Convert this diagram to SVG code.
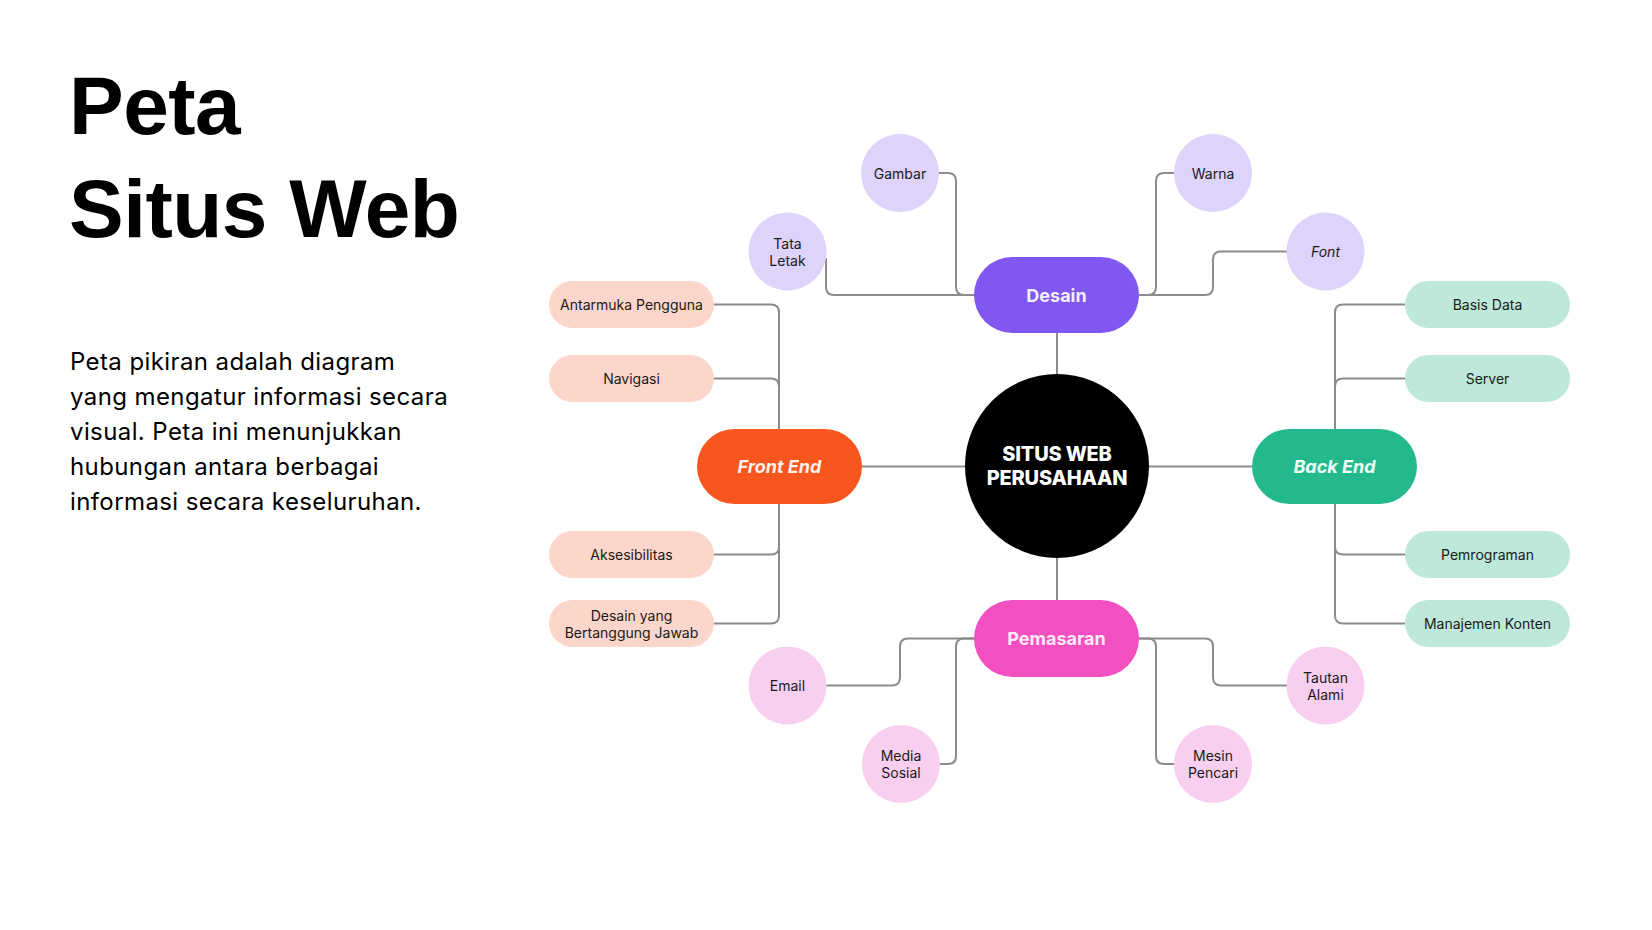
<svg xmlns="http://www.w3.org/2000/svg" width="1652" height="930" viewBox="0 0 1652 930">
<style>
.title{font-family:"Liberation Sans",Arial,sans-serif;font-weight:700;font-size:82px;fill:#000;letter-spacing:-0.5px}
.body{font-family:Inter,"Liberation Sans",sans-serif;font-size:24px;fill:#000;letter-spacing:0.4px}
.leaf{font-family:Inter,"Liberation Sans",sans-serif;font-size:14px;fill:#1a1a1a;text-anchor:middle;dominant-baseline:central}
.main{font-family:Inter,"Liberation Sans",sans-serif;font-size:18px;font-weight:700;text-anchor:middle;dominant-baseline:central}
.core{font-family:Inter,"Liberation Sans",sans-serif;font-size:20px;font-weight:800;fill:#fff;text-anchor:middle;dominant-baseline:central;letter-spacing:-0.2px}
.conn path{fill:none;stroke:#8c8c8c;stroke-width:2}
.lav{fill:#DDD3FB}.peach{fill:#FCD6CA}.mint{fill:#BDE8DA}.pink{fill:#F9CFEF}
</style>
<rect width="1652" height="930" fill="#fff"/>
<g id="title">
<text class="title" x="69" y="134">Peta</text>
<text class="title" x="69" y="237">Situs Web</text>
</g>
<g id="description">
<text class="body" x="70" y="370">Peta pikiran adalah diagram</text>
<text class="body" x="70" y="405">yang mengatur informasi secara</text>
<text class="body" x="70" y="440">visual. Peta ini menunjukkan</text>
<text class="body" x="70" y="475">hubungan antara berbagai</text>
<text class="body" x="70" y="510">informasi secara keseluruhan.</text>
</g>
<g id="connectors" class="conn">
<path d="M1057,333 V374"/>
<path d="M1057,558 V600"/>
<path d="M861,466.5 H965"/>
<path d="M1149,466.5 H1252"/>
<path d="M939,173 H948 Q956,173 956,181 V287 Q956,295 964,295 H974"/>
<path d="M826,258 V287 Q826,295 834,295 H974"/>
<path d="M1174,173 H1164 Q1156,173 1156,181 V287 Q1156,295 1148,295 H1139"/>
<path d="M1287,251.5 H1221 Q1213,251.5 1213,259.5 V287 Q1213,295 1205,295 H1139"/>
<path d="M826,685.5 H892 Q900,685.5 900,677.5 V646.5 Q900,638.5 908,638.5 H974"/>
<path d="M940,764 H948 Q956,764 956,756 V646.5 Q956,638.5 964,638.5 H974"/>
<path d="M1174,764 H1164 Q1156,764 1156,756 V646.5 Q1156,638.5 1148,638.5 H1139"/>
<path d="M1287,685.5 H1221 Q1213,685.5 1213,677.5 V646.5 Q1213,638.5 1205,638.5 H1139"/>
<path d="M714,304.5 H771 Q779,304.5 779,312.5 V429"/>
<path d="M714,378.5 H771 Q779,378.5 779,386.5 V429"/>
<path d="M779,504 V546.5 Q779,554.5 771,554.5 H714"/>
<path d="M779,504 V615.5 Q779,623.5 771,623.5 H714"/>
<path d="M1405,304.5 H1343 Q1335,304.5 1335,312.5 V429"/>
<path d="M1405,378.5 H1343 Q1335,378.5 1335,386.5 V429"/>
<path d="M1335,504 V546.5 Q1335,554.5 1343,554.5 H1405"/>
<path d="M1335,504 V615.5 Q1335,623.5 1343,623.5 H1405"/>
</g>
<g id="center">
<circle cx="1057" cy="466" r="92" fill="#000"/>
<text class="core" x="1057" y="454">SITUS WEB</text>
<text class="core" x="1057" y="478">PERUSAHAAN</text>
</g>
<g id="desain">
<rect x="974" y="257" width="165" height="76" rx="38" fill="#8057F0"/>
<text class="main" x="1056.5" y="295" fill="#F3EEFF">Desain</text>
</g>
<g id="front-end">
<rect x="697" y="429" width="165" height="75" rx="37.5" fill="#F9561F"/>
<text class="main" x="779.5" y="466.5" fill="#FFF1EC" font-style="italic">Front End</text>
</g>
<g id="back-end">
<rect x="1252" y="429" width="165" height="75" rx="37.5" fill="#24B98C"/>
<text class="main" x="1334.5" y="466.5" fill="#EFFFF8" font-style="italic">Back End</text>
</g>
<g id="pemasaran">
<rect x="974" y="600" width="165" height="77" rx="38.5" fill="#F24FC0"/>
<text class="main" x="1056.5" y="638.5" fill="#FFEAF8">Pemasaran</text>
</g>
<g id="gambar"><circle class="lav" cx="900" cy="173" r="39"/><text class="leaf" x="900" y="173">Gambar</text></g>
<g id="tata-letak"><circle class="lav" cx="787.5" cy="251.5" r="39"/><text class="leaf" x="787.5" y="243">Tata</text><text class="leaf" x="787.5" y="260">Letak</text></g>
<g id="warna"><circle class="lav" cx="1213" cy="173" r="39"/><text class="leaf" x="1213" y="173">Warna</text></g>
<g id="font"><circle class="lav" cx="1325.5" cy="251.5" r="39"/><text class="leaf" x="1325.5" y="251.5" font-style="italic">Font</text></g>
<g id="email"><circle class="pink" cx="787.5" cy="685.5" r="39"/><text class="leaf" x="787.5" y="685.5">Email</text></g>
<g id="media-sosial"><circle class="pink" cx="901" cy="764" r="39"/><text class="leaf" x="901" y="755.5">Media</text><text class="leaf" x="901" y="772.5">Sosial</text></g>
<g id="mesin-pencari"><circle class="pink" cx="1213" cy="764" r="39"/><text class="leaf" x="1213" y="755.5">Mesin</text><text class="leaf" x="1213" y="772.5">Pencari</text></g>
<g id="tautan-alami"><circle class="pink" cx="1325.5" cy="685.5" r="39"/><text class="leaf" x="1325.5" y="677">Tautan</text><text class="leaf" x="1325.5" y="694">Alami</text></g>
<g id="antarmuka"><rect class="peach" x="549" y="281" width="165" height="47" rx="23.5"/><text class="leaf" x="631.5" y="304.5">Antarmuka Pengguna</text></g>
<g id="navigasi"><rect class="peach" x="549" y="355" width="165" height="47" rx="23.5"/><text class="leaf" x="631.5" y="378.5">Navigasi</text></g>
<g id="aksesibilitas"><rect class="peach" x="549" y="531" width="165" height="47" rx="23.5"/><text class="leaf" x="631.5" y="554.5">Aksesibilitas</text></g>
<g id="desain-bertanggung"><rect class="peach" x="549" y="600" width="165" height="47" rx="23.5"/><text class="leaf" x="631.5" y="615">Desain yang</text><text class="leaf" x="631.5" y="632">Bertanggung Jawab</text></g>
<g id="basis-data"><rect class="mint" x="1405" y="281" width="165" height="47" rx="23.5"/><text class="leaf" x="1487.5" y="304.5">Basis Data</text></g>
<g id="server"><rect class="mint" x="1405" y="355" width="165" height="47" rx="23.5"/><text class="leaf" x="1487.5" y="378.5">Server</text></g>
<g id="pemrograman"><rect class="mint" x="1405" y="531" width="165" height="47" rx="23.5"/><text class="leaf" x="1487.5" y="554.5">Pemrograman</text></g>
<g id="manajemen"><rect class="mint" x="1405" y="600" width="165" height="47" rx="23.5"/><text class="leaf" x="1487.5" y="623.5">Manajemen Konten</text></g>
</svg>
